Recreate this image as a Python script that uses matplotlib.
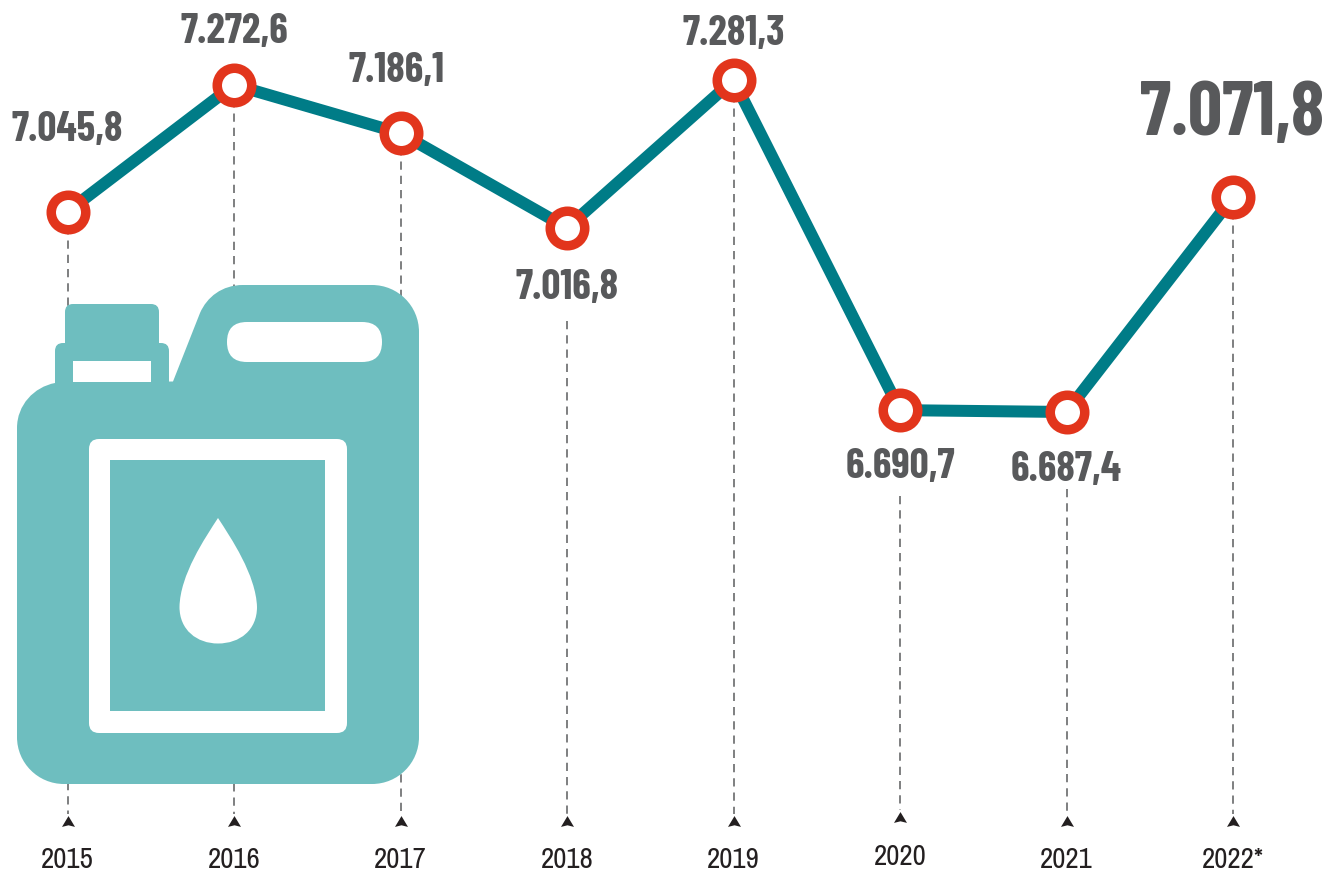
import matplotlib
matplotlib.use("Agg")
import matplotlib.pyplot as plt
from matplotlib.path import Path
from matplotlib.patches import PathPatch, FancyBboxPatch, Rectangle

years = [2015, 2016, 2017, 2018, 2019, 2020, 2021, 2022]
values = [7045.8, 7272.6, 7186.1, 7016.8, 7281.3, 6690.7, 6687.4, 7071.8]
value_labels = ["7.045,8", "7.272,6", "7.186,1", "7.016,8", "7.281,3", "6.690,7", "6.687,4", "7.071,8"]
year_labels = ["2015", "2016", "2017", "2018", "2019", "2020", "2021", "2022*"]

W, H, DPI = 1331, 879, 100
PT = 72 / DPI
X0, XSTEP = 67.5, 166.5
Y_REF, YSCALE = 81, 0.559
TEAL, LINE, RED, GREY, DARK = "#6EBEBF", "#007C87", "#E2351C", "#58595B", "#231F20"

# label offsets in pixels (dx, up), dash start pixel, arrow tip pixel, year label pixel
label_off = [(0, 83), (0, 54), (-4, 63), (0, -59), (0, 47), (0, -56), (0, -57), (-1, 83)]
dash_top = [None, None, None, 322, None, 497, 490, None]
arrow_tip = [817, 817, 817, 817, 817, 813, 817, 817]
year_y = [860, 860, 860, 860, 860, 857, 860, 860]

fig = plt.figure(figsize=(W / DPI, H / DPI), dpi=DPI, facecolor="white")
ax = fig.add_axes([0, 0, 1, 1])
ax.set_xlim(2015 - X0 / XSTEP, 2015 + (W - X0) / XSTEP)
ax.set_ylim(values[4] - (H - Y_REF) / YSCALE, values[4] + Y_REF / YSCALE)
ax.axis("off")
val_at = lambda py: values[4] + (Y_REF - py) / YSCALE

BOLD_FONT = ["Barlow Condensed", "Liberation Sans", "DejaVu Sans"]
YEAR_FONT = ["Archivo Narrow", "Liberation Sans", "DejaVu Sans"]

# dashed guides
for yr, v, top_px, tip in zip(years, values, dash_top, arrow_tip):
    start = v if top_px is None else val_at(top_px)
    ax.plot([yr, yr], [start, val_at(tip - 2)], color=GREY, lw=1.5 * PT,
            dashes=(5.5, 4), zorder=1, solid_capstyle="butt")

# arrows and year labels
arrow = Path([(-6, -5), (0, 5), (6, -5), (0, -3.5), (-6, -5)],
             [Path.MOVETO, Path.LINETO, Path.LINETO, Path.LINETO, Path.CLOSEPOLY])
for yr, tip, lab, ly in zip(years, arrow_tip, year_labels, year_y):
    ax.plot([yr], [val_at(tip + 5)], marker=arrow, ms=13 * PT, color=DARK, mew=0, zorder=2)
    ax.text(yr, val_at(ly), lab, ha="center", va="center", family=YEAR_FONT,
            fontsize=29 * PT, color=DARK, zorder=5)

# canister icon, drawn in pixel coordinates on an overlay
ic = fig.add_axes([0, 0, 1, 1], zorder=0.5)
ic.set_xlim(0, W)
ic.set_ylim(H - 1, -1)
ic.axis("off")
ic.patch.set_alpha(0)
M, L, C, Z = Path.MOVETO, Path.LINETO, Path.CURVE4, Path.CLOSEPOLY
body = Path(
    [(17, 428), (17, 405), (34, 387), (55, 383), (173, 381.5), (200, 313), (207, 297), (222, 285),
     (243, 285), (372, 285), (398, 285), (419, 306), (419, 332), (419, 737), (419, 763), (398, 784),
     (372, 784), (64, 784), (38, 784), (17, 763), (17, 737), (17, 428)],
    [M, C, C, C, L, L, C, C, C, L, C, C, C, L, C, C, C, L, C, C, C, Z])
drop = Path(
    [(218, 518), (205, 538), (180, 575), (179.5, 607), (179.5, 630), (197, 643.5), (218, 643.5),
     (240, 643.5), (257, 630), (257, 607), (256, 575), (231, 538), (218, 518)],
    [M, C, C, C, C, C, C, C, C, C, C, C, C])


def rrect(x0, y0, x1, y1, r, color, z):
    ic.add_patch(FancyBboxPatch((x0 + r, y0 + r), x1 - x0 - 2 * r, y1 - y0 - 2 * r,
                                boxstyle=f"round,pad={r},rounding_size={r}",
                                fc=color, ec="none", zorder=z))


ic.add_patch(PathPatch(body, fc=TEAL, ec="none", zorder=2))
rrect(65, 304, 159, 360, 8, TEAL, 2)
rrect(55, 343, 169, 395, 8, TEAL, 2)
ic.add_patch(Rectangle((73, 361), 78, 20.5, fc="white", ec="none", zorder=3))
rrect(227, 322, 382, 362, 19.9, "white", 3)
rrect(89, 439, 347, 733, 10, "white", 3)
ic.add_patch(Rectangle((110, 460), 215, 251, fc=TEAL, ec="none", zorder=4))
ic.add_patch(PathPatch(drop, fc="white", ec="none", zorder=5))

# series on top
top = fig.add_axes([0, 0, 1, 1], zorder=1)
top.set_xlim(ax.get_xlim())
top.set_ylim(ax.get_ylim())
top.axis("off")
top.patch.set_alpha(0)
top.plot(years, values, color=LINE, lw=12 * PT, solid_joinstyle="miter", zorder=3)
top.plot(years, values, ls="none", marker="o", ms=34.5 * PT, mfc="white", mec=RED, mew=9.5 * PT, zorder=4)

for i, (yr, v, lab, (dx, up)) in enumerate(zip(years, values, value_labels, label_off)):
    size = 76 if i == len(years) - 1 else 42
    top.annotate(lab, (yr, v), xytext=(dx, up), textcoords="offset pixels", ha="center", va="center",
                 family=BOLD_FONT, fontweight="bold", fontsize=size * PT, color=GREY, zorder=6)

fig.savefig("out.png", dpi=DPI, facecolor="white")
